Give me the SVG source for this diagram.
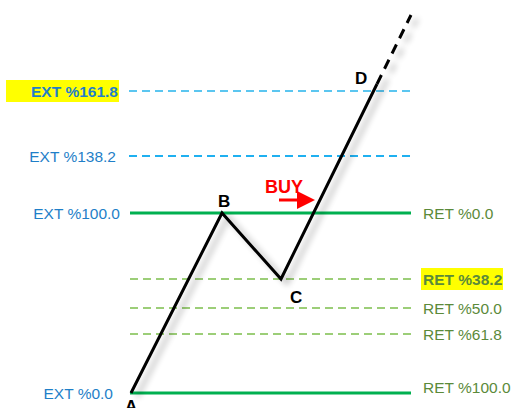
<svg xmlns="http://www.w3.org/2000/svg" width="513" height="408" viewBox="0 0 513 408">
<style>
text{font-family:"Liberation Sans",Arial,sans-serif;font-size:15.5px}
.ext{fill:#1f7fc8;text-anchor:end}
.ret{fill:#5b8a3a}
.b{font-weight:bold}
.pt{font-weight:bold;fill:#000;font-size:17px}
.gs{stroke:#00b050;stroke-width:3;fill:none}
.gd{stroke:#7cbf4c;stroke-width:1.5;stroke-dasharray:8,5;fill:none}
.bd{stroke-width:2;stroke-dasharray:8,5;fill:none}
.wave{stroke:#000;stroke-width:3;fill:none;stroke-linejoin:miter}
</style>
<defs>
<filter id="sh" x="-20%" y="-20%" width="140%" height="140%">
<feGaussianBlur in="SourceAlpha" stdDeviation="3"/>
<feOffset dx="6" dy="4" result="b"/>
<feComponentTransfer><feFuncA type="linear" slope="0.3"/></feComponentTransfer>
<feMerge><feMergeNode/><feMergeNode in="SourceGraphic"/></feMerge>
</filter>
<marker id="ah" markerWidth="6" markerHeight="6" refX="3" refY="3" orient="auto" markerUnits="strokeWidth">
<path d="M0,0 L6,3 L0,6 z" fill="#ff0000"/>
</marker>
</defs>
<rect width="513" height="408" fill="#fff"/>
<g id="levels">
<line x1="129" y1="91" x2="411" y2="91" class="bd" stroke="#5bc6f0" stroke-width="1.6"/>
<line x1="129" y1="156" x2="411" y2="156" class="bd" stroke="#1fb0f0"/>
<line x1="130" y1="213" x2="411" y2="213" class="gs"/>
<line x1="130" y1="279" x2="411" y2="279" class="gd"/>
<line x1="130" y1="308" x2="411" y2="308" class="gd"/>
<line x1="130" y1="334" x2="411" y2="334" class="gd" stroke-width="2"/>
<line x1="130" y1="393" x2="411" y2="393" class="gs"/>
</g>
<g id="connectors" filter="url(#sh)">
<polyline class="wave" points="131,393 222,213 281,279 377,84"/>
<line x1="377" y1="84" x2="411" y2="15" class="wave" stroke-dasharray="10,7"/>
</g>
<g id="buy">
<line x1="279" y1="200" x2="306" y2="200" stroke="#ff0000" stroke-width="3" marker-end="url(#ah)"/>
<text x="265" y="193" fill="#ff0000" class="b" style="font-size:18px">BUY</text>
</g>
<g id="ext-labels">
<rect x="6" y="80" width="113" height="22" fill="#ffff00"/>
<text x="118" y="97" class="ext b">EXT %161.8</text>
<text x="116" y="162" class="ext">EXT %138.2</text>
<text x="120" y="219" class="ext">EXT %100.0</text>
<text x="113" y="399" class="ext">EXT %0.0</text>
</g>
<g id="ret-labels">
<rect x="421" y="268" width="82" height="22" fill="#ffff00"/>
<text x="423" y="219" class="ret">RET %0.0</text>
<text x="423" y="285" class="ret b">RET %38.2</text>
<text x="423" y="314" class="ret">RET %50.0</text>
<text x="423" y="340" class="ret">RET %61.8</text>
<text x="423" y="393" class="ret">RET %100.0</text>
</g>
<g id="pointA"><text x="125" y="412" class="pt">A</text></g>
<g id="pointB"><text x="218" y="207" class="pt">B</text></g>
<g id="pointC"><text x="290" y="303" class="pt">C</text></g>
<g id="pointD"><text x="355" y="84" class="pt">D</text></g>
</svg>
